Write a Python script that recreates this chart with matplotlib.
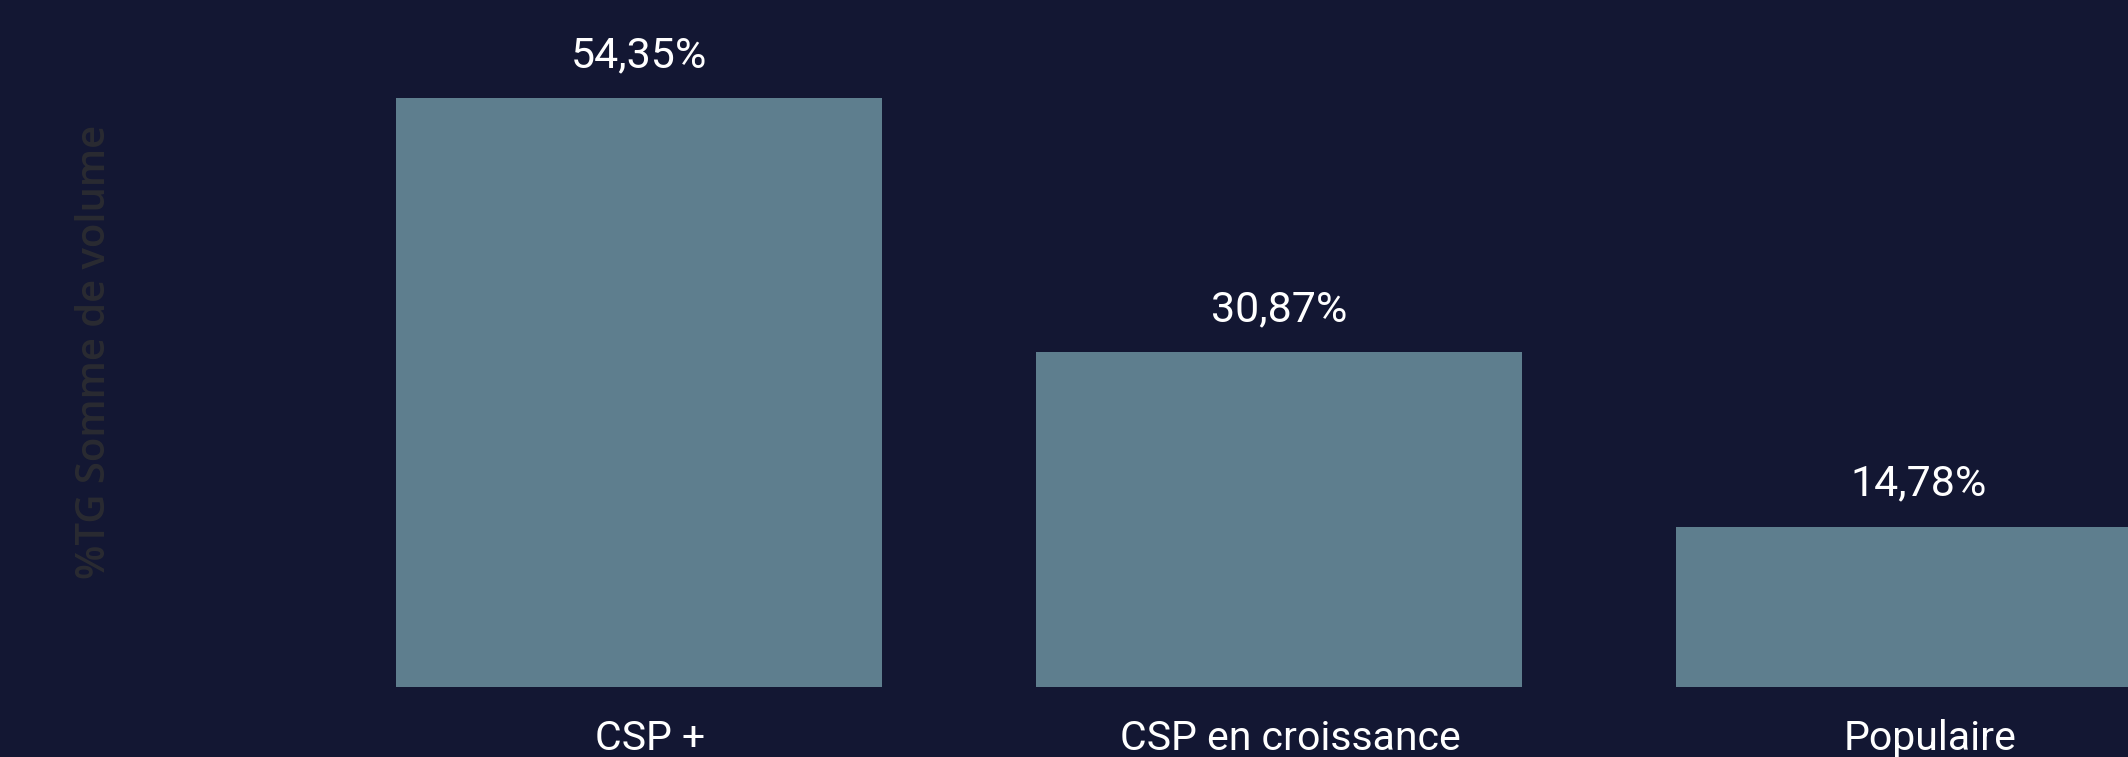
import matplotlib.pyplot as plt
import numpy as np

# data
categories = ['CSP +', 'CSP en croissance', 'Populaire']
values = [54.35, 30.87, 14.78]
value_labels = ['54,35%', '30,87%', '14,78%']

BG = '#131733'
BAR = '#5e7e8e'

W, H, DPI = 2128, 757, 100
fig = plt.figure(figsize=(W / DPI, H / DPI), dpi=DPI, facecolor=BG)

# axes: baseline at 687 px from top, spans full width
ax = fig.add_axes([0, (H - 687) / H, 1, 687 / H])
ax.set_facecolor(BG)

x = np.arange(len(categories))
ax.bar(x, values, width=0.76, color=BAR)

# px per unit: 54.35 -> 589 px
ppu = 589 / 54.35
ax.set_ylim(0, 687 / ppu)
ax.set_xlim(-639 / 640, 2 + (W - 1919) / 640)

for s in ax.spines.values():
    s.set_visible(False)
ax.set_xticks([])
ax.set_yticks([])

lab_font = 'Roboto'

# value labels above bars
for xi, v, t in zip(x, values, value_labels):
    ax.annotate(t, (xi, v), xytext=(0, 31 * 72 / DPI), textcoords='offset points',
                ha='center', va='baseline', color='white',
                fontsize=31, family=lab_font)

# category labels below axis
for xi, c in zip(x, categories):
    ax.annotate(c, (xi, 0), xycoords=('data', 'axes fraction'),
                xytext=(8, -63 * 72 / DPI), textcoords='offset points',
                ha='center', va='baseline', color='white',
                fontsize=29.5, family=lab_font, annotation_clip=False)

# faint y axis title
fig.text(95 / W, 1 - 352 / H, '%TG Somme de volume', rotation=90,
         ha='center', va='center', color='#2a2b31', fontsize=28.8,
         family='Open Sans', fontweight='semibold')

fig.savefig('out.png', dpi=DPI, facecolor=BG)
